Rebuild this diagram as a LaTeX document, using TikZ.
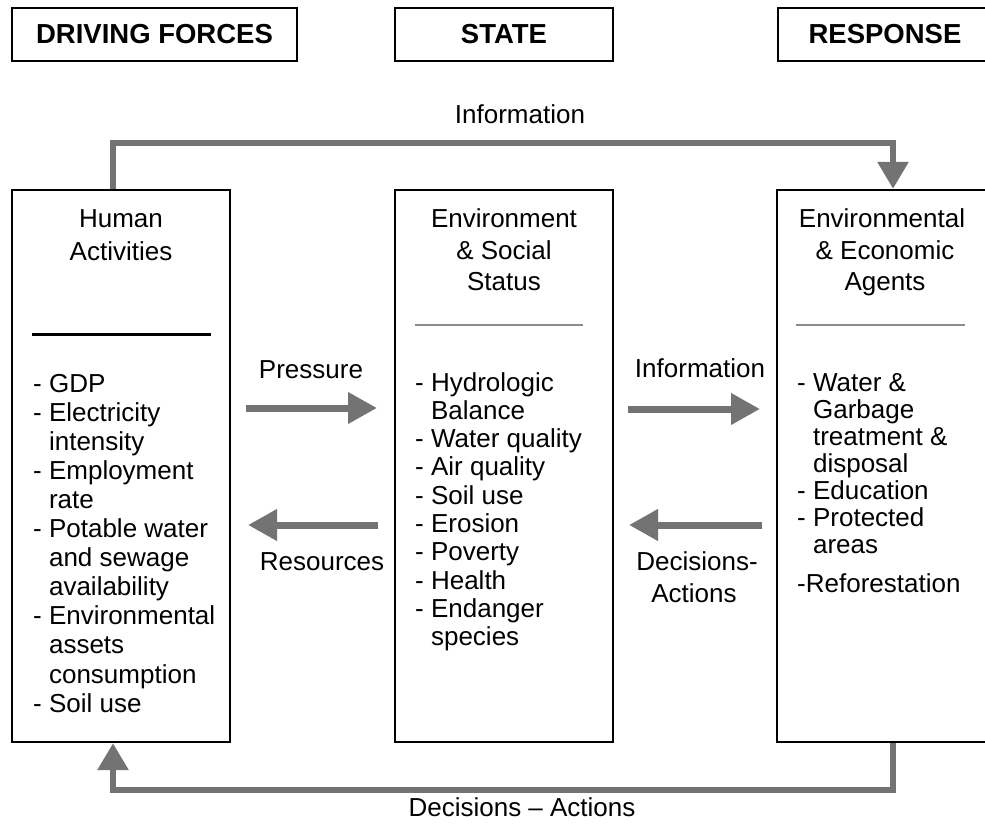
\documentclass[tikz,border=0pt]{standalone}
\usepackage{fontspec}
\setmainfont{Liberation Sans}
\usetikzlibrary{arrows.meta,calc}
\definecolor{stip}{gray}{0.45}
\definecolor{sep}{gray}{0.55}
\begin{document}
\begin{tikzpicture}[x=1pt,y=-1pt,
  box/.style={draw=black, line width=2.4pt, inner sep=0pt},
  hdr/.style={font=\fontsize{27.5}{30}\selectfont\bfseries},
  txt/.style={font=\fontsize{26}{29}\selectfont, inner sep=0pt},
  item/.style={txt, anchor=base west},
  ttl/.style={txt, anchor=base},
  conn/.style={draw=stip, line width=6pt, line join=miter, -{Triangle[length=27pt,width=30pt]}},
  fat/.style={draw=stip, line width=7pt, -{Triangle[length=29pt,width=30pt]}},
  sepline/.style={draw=sep, line width=1.4pt}]
\useasboundingbox (0,0) rectangle (985,829);
\clip (0,0) rectangle (985,829);

% header boxes
\node[box, hdr, minimum width=285pt, minimum height=53pt] (hdf) at (154.5,34.5) {DRIVING FORCES};
\node[box, hdr, minimum width=218pt, minimum height=53pt] (hst) at (504,34.5) {STATE};
\node[box, hdr, minimum width=214pt, minimum height=53pt] (hrs) at (885,34.5) {RESPONSE};

% main boxes
\node[box, minimum width=218pt, minimum height=552pt] (ha) at (121,466) {};
\node[box, minimum width=218pt, minimum height=552pt] (es) at (504,466) {};
\node[box, minimum width=216pt, minimum height=552pt] (ea) at (885,466) {};

% titles
\node[ttl] (ha1) at (121,228) {Human};
\node[ttl] (ha2) at (121,260) {Activities};
\node[ttl] (es1) at (504,227) {Environment};
\node[ttl] (es2) at (504,259) {\& Social};
\node[ttl] (es3) at (504,290) {Status};
\node[ttl] (ea1) at (882,227) {Environmental};
\node[ttl] (ea2) at (885,259) {\& Economic};
\node[ttl] (ea3) at (885,290) {Agents};

% separators
\draw[draw=black, line width=3pt] (32,334) -- (211,334);
\draw[sepline] (415,325) -- (583,325);
\draw[sepline] (796,325) -- (965,325);

% lists
\foreach \t [count=\i] in {- GDP, - Electricity, \phantom{- }intensity, - Employment, \phantom{- }rate, - Potable water, \phantom{- }and sewage, \phantom{- }availability, - Environmental, \phantom{- }assets, \phantom{- }consumption, - Soil use}
  \node[item] (hl\i) at (33,{392+29.1*(\i-1)}) {\t};
\foreach \t [count=\i] in {- Hydrologic, \phantom{- }Balance, - Water quality, - Air quality, - Soil use, - Erosion, - Poverty, - Health, - Endanger, \phantom{- }species}
  \node[item] (el\i) at (415,{391+28.3*(\i-1)}) {\t};
\foreach \t [count=\i] in {- Water \&, \phantom{- }Garbage, \phantom{- }treatment \&, \phantom{- }disposal, - Education, - Protected, \phantom{- }areas}
  \node[item] (rl\i) at (797,{391+27*(\i-1)}) {\t};
\node[item] (rl8) at (797,592) {-Reforestation};

% labels
\node[ttl] (linfo) at (520,124) {Information};
\node[ttl] (lpress) at (311,378) {Pressure};
\node[ttl] (lres) at (322,570) {Resources};
\node[ttl] (linf2) at (700,377) {Information};
\node[ttl] (ldec1) at (697,570) {Decisions-};
\node[ttl] (ldec2) at (694,602) {Actions};
\node[ttl] (ldec3) at (522,816) {Decisions -- Actions};

% horizontal arrows
\coordinate (p1) at (246,408);
\coordinate (p2) at (377,408);
\coordinate (r1) at (378,525);
\coordinate (r2) at (248,525);
\coordinate (i1) at (628,409);
\coordinate (i2) at (760,409);
\coordinate (d1) at (762,525);
\coordinate (d2) at (629,525);
\draw[fat] (p1) -- (p2);
\draw[fat] (r1) -- (r2);
\draw[fat] (i1) -- (i2);
\draw[fat] (d1) -- (d2);

% loop connectors
\draw[conn] ([xshift=-8pt]ha.north) |- (893,143) -- ([xshift=8pt]ea.north);
\draw[conn] ([xshift=8pt]ea.south) |- (113,790) -- ([xshift=-8pt]ha.south);
\end{tikzpicture}
\end{document}
